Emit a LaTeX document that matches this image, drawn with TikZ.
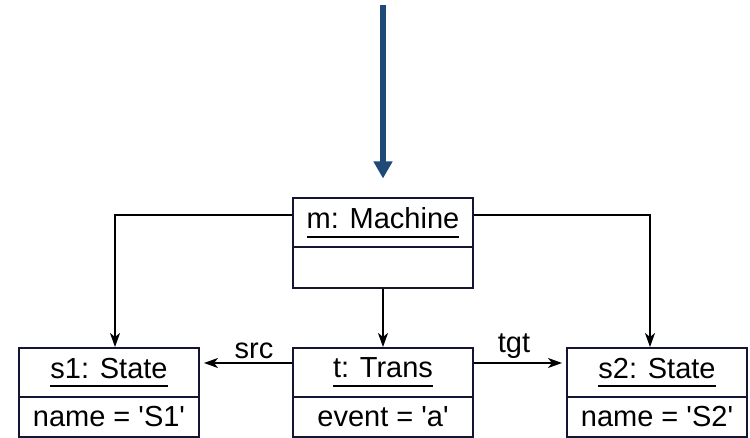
\documentclass[tikz,border=0pt]{standalone}
\usepackage{fontspec}
\setmainfont{Liberation Sans}[Ligatures=TeXOff]
\usetikzlibrary{arrows.meta}
\definecolor{boxline}{HTML}{141433}
\definecolor{flowblue}{HTML}{1F4A78}
\newcommand\ulname[1]{\setbox0\hbox{#1}\rlap{\rule[-4.6pt]{\wd0}{0.9pt}}\box0}
\tikzset{
  objtitle/.style={draw=boxline, line width=1pt, rectangle, minimum width=90pt, minimum height=24.5pt, inner sep=0pt, font=\fontsize{14.5}{17}\selectfont},
  objattr/.style={draw=boxline, line width=1pt, rectangle, minimum width=90pt, minimum height=20pt, inner sep=0pt, font=\fontsize{14.5}{17}\selectfont},
  conn/.style={draw=black, line width=1pt, -{Stealth[length=7pt,width=5pt,inset=2pt]}},
  lbl/.style={font=\fontsize{14.5}{17}\selectfont, inner sep=1.5pt},
  flow/.style={draw=flowblue, line width=3pt, -{Triangle[length=8.5pt,width=9pt]}}
}
\begin{document}
\begin{tikzpicture}[x=0.5pt,y=-0.5pt]
\useasboundingbox (0,0) rectangle (750,438);
% Machine
\node[objtitle] (mt) at (383,223) {\ulname{m: Machine}};
\node[objattr, minimum height=20.5pt] (ma) at (383,267.5) {};
% s1
\node[objtitle] (s1t) at (109,372.5) {\ulname{s1: State}};
\node[objattr] (s1a) at (109,417) {name = 'S1'};
% t
\node[objtitle] (tt) at (383,372.5) {\ulname{t: Trans}};
\node[objattr] (ta) at (383,417) {event = 'a'};
% s2
\node[objtitle] (s2t) at (657,372.5) {\ulname{s2: State}};
\node[objattr] (s2a) at (657,417) {name = 'S2'};
% incoming flow arrow
\coordinate (flowstart) at (383,5);
\draw[flow] (flowstart) -- ([yshift=9.5pt]mt.north);
% connectors
\draw[conn] ([yshift=4pt]mt.west) -| ([xshift=3pt]s1t.north);
\draw[conn] ([yshift=4pt]mt.east) -| ([xshift=-3.5pt]s2t.north);
\draw[conn] (ma.south) -- (tt.north);
\draw[conn] ([yshift=4.75pt]tt.west) -- node[lbl, above, xshift=3pt] {src} ([yshift=4.75pt,xshift=2pt]s1t.east);
\draw[conn] ([yshift=4.75pt]tt.east) -- node[lbl, above, xshift=-2pt] {tgt} ([yshift=4.75pt,xshift=-2pt]s2t.west);
\end{tikzpicture}
\end{document}
